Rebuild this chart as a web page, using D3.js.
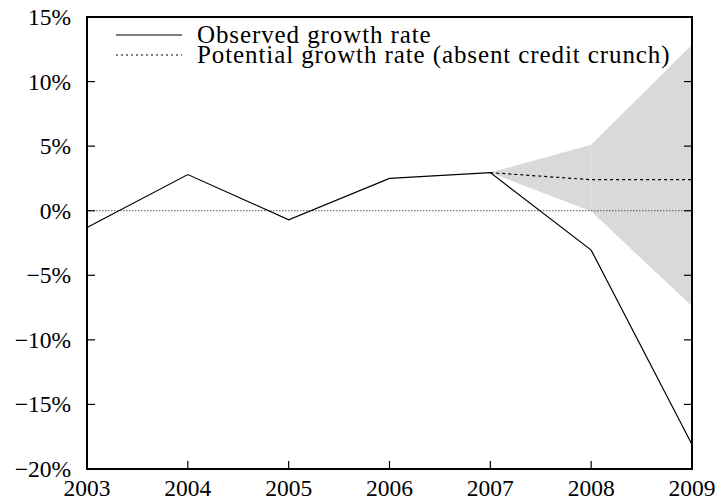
<!DOCTYPE html>
<html><head><meta charset="utf-8">
<script src="https://cdn.jsdelivr.net/npm/d3@7"></script>
<style>body{margin:0;background:#fff}svg{display:block}</style>
</head><body><svg id="c" width="721" height="501"></svg>
<script>
const years = [2003, 2004, 2005, 2006, 2007, 2008, 2009];
const observed = [-1.3, 2.8, -0.7, 2.5, 2.95, -3.05, -18.1];
const potYears = [2007, 2008, 2009];
const potential = [2.95, 2.4, 2.4];
const bandUpper = [2.95, 5.1, 12.85];
const bandLower = [2.95, -0.05, -7.4];
const yTicks = [-20, -15, -10, -5, 0, 5, 10, 15];
const legendLabels = ["Observed growth rate", "Potential growth rate (absent credit crunch)"];

const FONT = "Liberation Serif";
const svg = d3.select("#c");
const L = 87, R = 692, T = 17, B = 469;
const x = d3.scaleLinear().domain([2003, 2009]).range([L, R]);
const y = d3.scaleLinear().domain([-20, 15]).range([B, T]);
const fmt = v => (v < 0 ? "\u2212" + Math.abs(v) : v) + "%";

// band (two segments, as in reference)
const band = potYears.map((yr, i) => ({yr, lo: bandLower[i], hi: bandUpper[i]}));
const area = d3.area().x(d => x(d.yr)).y0(d => y(d.lo)).y1(d => y(d.hi));
for (let i = 0; i < band.length - 1; i++) {
  svg.append("path").attr("d", area([band[i], band[i + 1]])).attr("fill", "#d9d9d9");
}

// zero line
svg.append("line").attr("x1", L).attr("x2", R).attr("y1", y(0)).attr("y2", y(0))
  .attr("stroke", "#555").attr("stroke-width", 1).attr("stroke-dasharray", "1.5,1.5");

// lines
const line = d3.line().x(d => x(d[0])).y(d => y(d[1]));
svg.append("path").attr("d", line(years.map((yr, i) => [yr, observed[i]])))
  .attr("fill", "none").attr("stroke", "#000").attr("stroke-width", 1.2);
svg.append("path").attr("d", line(potYears.map((yr, i) => [yr, potential[i]])))
  .attr("fill", "none").attr("stroke", "#000").attr("stroke-width", 1.2).attr("stroke-dasharray", "3,3");

// axes ticks (inward)
const g = svg.append("g");
yTicks.forEach(t => {
  g.append("line").attr("x1", L).attr("x2", L + 8).attr("y1", y(t)).attr("y2", y(t)).attr("stroke", "#000").attr("stroke-width", 1.2);
  g.append("line").attr("x1", R).attr("x2", R - 8).attr("y1", y(t)).attr("y2", y(t)).attr("stroke", "#000").attr("stroke-width", 1.2);
  g.append("text").attr("x", 71).attr("y", y(t) + 8).attr("text-anchor", "end")
    .attr("font-family", FONT).attr("font-size", 23.5).text(fmt(t));
});
years.forEach(yr => {
  g.append("line").attr("x1", x(yr)).attr("x2", x(yr)).attr("y1", B).attr("y2", B - 8).attr("stroke", "#000").attr("stroke-width", 1.2);
  g.append("text").attr("x", x(yr)).attr("y", 496).attr("text-anchor", "middle")
    .attr("font-family", FONT).attr("font-size", 23.5).text(yr);
});

// frame
svg.append("rect").attr("x", L).attr("y", T).attr("width", R - L).attr("height", B - T)
  .attr("fill", "none").attr("stroke", "#000").attr("stroke-width", 2);

// legend
const dashes = [null, "2,3"];
legendLabels.forEach((lab, i) => {
  const ly = 35 + i * 20;
  svg.append("line").attr("x1", 116).attr("x2", 182).attr("y1", ly).attr("y2", ly)
    .attr("stroke", "#000").attr("stroke-width", 1.2).attr("stroke-dasharray", dashes[i]);
  svg.append("text").attr("x", 197).attr("y", ly + 8).attr("font-family", FONT)
    .attr("font-size", 25).attr("letter-spacing", 0.9).text(lab);
});
</script></body></html>
